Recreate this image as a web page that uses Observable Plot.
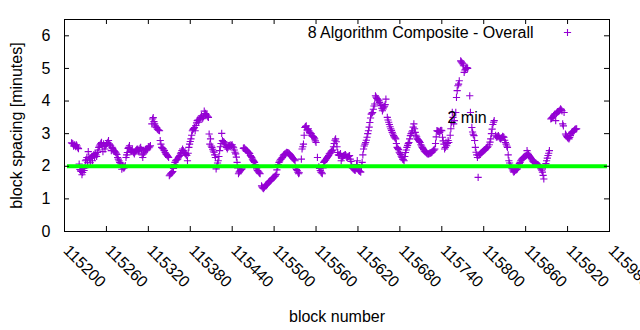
<!DOCTYPE html>
<html><head><meta charset="utf-8">
<script src="https://cdn.jsdelivr.net/npm/d3@7"></script>
<script src="https://cdn.jsdelivr.net/npm/@observablehq/plot@0.6"></script>
<style>
html,body{margin:0;padding:0;background:#fff;}
#chart{width:640px;height:330px;overflow:hidden;}
</style></head><body><div id="chart"></div>
<script>
const blocks = [
115210,115212,115213,115214,115216,115217,115219,115220,115221,115222,
115224,115225,115226,115227,115228,115230,115232,115233,115234,115236,
115237,115239,115240,115241,115244,115246,115249,115251,115253,115255,
115256,115258,115259,115262,115263,115264,115266,115267,115269,115271,
115273,115275,115276,115278,115281,115282,115283,115285,115287,115288,
115290,115293,115295,115297,115300,115302,115304,115307,115309,115312,
115314,115316,115319,115321,115323,115325,115326,115327,115328,115330,
115332,115333,115336,115337,115339,115341,115343,115345,115347,115349,
115350,115352,115355,115356,115359,115362,115365,115367,115369,115371,
115373,115375,115376,115378,115381,115383,115386,115387,115390,115392,
115395,115397,115399,115400,115402,115404,115406,115407,115408,115409,
115411,115414,115416,115417,115420,115422,115425,115426,115428,115430,
115433,115435,115438,115440,115442,115444,115447,115449,115452,115454,
115457,115459,115461,115463,115465,115466,115468,115469,115472,115476,
115478,115480,115483,115485,115488,115490,115492,115495,115497,115500,
115502,115504,115507,115509,115512,115514,115516,115518,115521,115523,
115526,115530,115531,115533,115535,115539,115540,115542,115544,115546,
115547,115549,115551,115553,115554,115556,115558,115560,115562,115565,
115566,115569,115571,115574,115576,115581,115584,115588,115589,115593,
115595,115596,115598,115600,115602,115604,115606,115608,115609,115612,
115614,115616,115619,115621,115624,115626,115628,115631,115633,115635,
115637,115639,115641,115644,115645,115648,115650,115652,115655,115657,
115659,115660,115662,115664,115666,115669,115671,115674,115676,115678,
115679,115681,115683,115686,115688,115690,115693,115695,115698,115700,
115702,115705,115707,115709,115712,115714,115717,115719,115721,115724,
115726,115730,115733,115736,115738,115740,115741,115743,115744,115745,
115746,115747,115749,115750,115755,115756,115757,115758,115760,115761,
115762,115763,115764,115765,115767,115769,115770,115771,115772,115774,
115775,115776,115780,115781,115783,115786,115787,115788,115789,115791,
115792,115793,115795,115797,115800,115802,115805,115810,115812,115813,
115815,115819,115821,115824,115826,115829,115831,115834,115836,115838,
115841,115843,115845,115848,115850,115853,115855,115857,115860,115861,
115862,115865,115867,115872,115874,115876,115879,115881,115884,115886,
115890,115892,115894,115896,115898,115900,115902,115903,115905,115908,
115910,115912,115913,115914,115915,115917,115919,115922,115924,115926,
115929,115931,115933,
115211,115215,115218,115223,115229,115231,115235,115238,115242,115243,
115245,115247,115248,115250,115252,115254,115257,115260,115261,115265,
115268,115270,115272,115274,115277,115279,115280,115284,115286,115289,
115291,115292,115294,115296,115298,115299,115301,115303,115305,115306,
115308,115310,115311,115313,115315,115317,115318,115320,115322,115329,
115331,115334,115335,115338,115340,115342,115344,115346,115348,115351,
115353,115354,115357,115358,115360,115361,115363,115364,115366,115368,
115370,115372,115374,115377,115379,115380,115382,115384,115385,115388,
115389,115391,115393,115394,115396,115398,115401,115403,115405,115410,
115412,115413,115415,115418,115419,115421,115423,115424,115427,115429,
115431,115432,115434,115436,115437,115439,115441,115443,115445,115446,
115448,115450,115451,115453,115456,115458,115460,115462,115464,115467,
115470,115471,115473,115474,115475,115477,115479,115482,115484,115486,
115487,115489,115491,115493,115494,115496,115498,115499,115501,115503,
115505,115506,115508,115510,115511,115513,115515,115517,115519,115520,
115522,115524,115525,115527,115528,115529,115532,115534,115536,115541,
115543,115545,115548,115550,115552,115555,115557,115559,115564,115567,
115568,115570,115572,115573,115575,115577,115578,115579,115580,115582,
115583,115585,115586,115587,115590,115591,115592,115594,115597,115599,
115601,115603,115605,115607,115610,115611,115613,115615,115617,115618,
115620,115622,115623,115625,115627,115629,115630,115632,115634,115636,
115638,115640,115642,115643,115646,115647,115649,115651,115653,115654,
115656,115658,115663,115665,115667,115668,115670,115672,115673,115675,
115677,115680,115682,115684,115685,115687,115689,115691,115692,115694,
115696,115697,115699,115701,115703,115704,115706,115708,115710,115711,
115713,115715,115716,115718,115720,115722,115723,115725,115727,115728,
115729,115731,115732,115734,115735,115737,115739,115742,115748,115752,
115753,115754,115768,115773,115777,115784,115785,115790,115794,115796,
115798,115799,115801,115803,115804,115806,115808,115809,115811,115814,
115817,115818,115820,115822,115823,115825,115827,115828,115830,115832,
115833,115835,115837,115839,115840,115842,115844,115846,115847,115849,
115851,115852,115854,115856,115858,115859,115863,115864,115866,115868,
115869,115870,115871,115873,115875,115877,115878,115880,115882,115883,
115885,115888,115889,115891,115893,115897,115899,115901,115904,115906,
115907,115909,115911,115918,115920,115921,115923,115925,115927,115928,
115930,115932
];
const spacing = [
2.72,2.69,2.62,2.66,2.60,2.66,2.57,2.54,2.07,1.90,
1.84,1.74,1.81,1.93,1.87,2.17,2.27,2.11,2.45,2.23,
2.11,2.30,2.17,2.33,2.39,2.30,2.58,2.66,2.73,2.45,
2.69,2.53,2.63,2.73,2.79,2.69,2.63,2.48,2.55,2.48,
2.43,2.36,2.27,2.17,2.07,1.91,1.99,1.94,2.02,2.27,
2.42,2.63,2.45,2.51,2.38,2.48,2.53,2.48,2.58,2.27,
2.43,2.51,2.53,2.57,2.63,3.30,3.45,3.49,3.37,3.24,
3.18,3.14,3.09,2.79,2.58,2.54,2.48,2.38,2.33,2.27,
1.71,1.77,1.84,1.93,2.17,2.22,2.33,2.42,2.53,2.43,
2.39,2.33,2.17,2.58,2.84,3.09,3.19,3.09,3.40,3.35,
3.50,3.46,3.52,3.69,3.62,3.55,3.50,2.99,2.68,2.84,
2.58,2.43,2.27,1.92,2.17,2.48,3.01,2.79,2.75,2.68,
2.53,2.63,2.66,2.66,2.57,2.43,2.12,1.77,1.87,1.92,
2.57,2.50,2.48,2.43,2.39,2.33,2.27,2.22,2.12,1.87,
1.82,1.77,1.36,1.31,1.41,1.45,1.51,1.56,1.61,1.67,
1.71,1.89,2.12,2.20,2.27,2.36,2.38,2.43,2.40,2.36,
2.27,2.17,1.95,1.87,1.77,2.22,2.53,2.68,3.19,3.24,
3.11,3.15,3.04,3.00,2.94,2.91,2.84,2.73,2.27,1.93,
1.87,1.77,2.12,2.20,2.27,2.43,2.50,2.84,2.75,2.33,
2.39,2.17,2.30,2.33,2.36,2.27,2.30,2.33,2.22,1.95,
1.91,1.87,2.17,1.87,1.82,2.12,2.53,2.73,2.89,3.09,
3.34,3.60,3.65,3.91,4.16,4.06,4.01,3.91,3.70,3.81,
3.89,4.06,3.50,3.35,3.21,3.04,2.94,2.84,2.58,2.51,
2.43,2.36,2.27,2.17,2.42,2.58,2.73,2.94,3.09,3.30,
3.04,2.84,2.79,2.73,2.58,2.51,2.43,2.39,2.38,2.40,
2.43,2.53,3.09,3.06,3.09,3.09,2.89,2.68,2.53,2.58,
2.73,2.63,2.79,2.73,3.65,3.50,3.30,3.40,3.65,4.11,
4.32,4.47,4.52,4.62,5.23,5.17,5.14,5.08,4.88,4.98,
5.02,5.03,4.16,3.65,3.19,2.94,2.79,2.58,2.43,2.27,
1.66,2.33,2.38,2.42,2.48,2.51,2.58,2.84,3.14,3.28,
3.40,2.89,2.94,2.84,2.88,2.89,2.73,2.58,2.17,2.02,
1.92,1.82,1.87,1.92,2.02,2.17,2.23,2.27,2.31,2.33,
2.48,2.33,2.27,2.12,2.10,2.07,2.02,1.97,1.82,1.61,
2.17,2.33,2.48,3.45,3.49,3.55,3.61,3.40,3.65,3.70,
3.76,3.70,3.30,3.24,3.65,2.99,2.91,2.84,2.94,3.04,
3.09,3.14,3.15,
2.70,2.64,2.62,1.86,1.95,2.20,2.28,2.25,2.36,2.28,
2.35,2.42,2.50,2.62,2.70,2.60,2.62,2.68,2.70,2.66,
2.58,2.50,2.45,2.40,2.22,2.12,2.10,1.96,1.97,2.35,
2.55,2.58,2.50,2.47,2.45,2.42,2.44,2.50,2.52,2.46,
2.55,2.50,2.35,2.38,2.47,2.54,2.50,2.60,2.60,3.30,
3.20,3.12,3.10,2.68,2.56,2.50,2.42,2.36,2.30,1.74,
1.79,1.81,2.05,2.12,2.19,2.20,2.26,2.30,2.38,2.48,
2.48,2.41,2.36,2.40,2.68,2.76,2.95,3.13,3.16,3.25,
3.33,3.42,3.44,3.47,3.55,3.48,3.60,3.58,3.52,2.62,
2.52,2.47,2.35,2.00,2.10,2.30,2.60,2.70,2.76,2.72,
2.62,2.58,2.58,2.64,2.60,2.63,2.60,2.50,2.38,2.28,
1.95,1.82,1.85,1.90,2.55,2.54,2.50,2.45,2.41,2.30,
2.18,2.15,2.05,1.98,1.92,1.85,1.79,1.40,1.33,1.35,
1.38,1.43,1.48,1.53,1.55,1.58,1.63,1.65,1.69,1.75,
1.98,2.05,2.16,2.22,2.25,2.32,2.37,2.40,2.42,2.41,
2.38,2.33,2.30,2.24,2.22,2.20,1.90,1.82,1.80,2.60,
2.95,3.22,3.13,3.08,3.02,2.92,2.88,2.78,1.98,1.82,
1.80,1.95,2.15,2.18,2.24,2.30,2.33,2.38,2.40,2.46,
2.48,2.60,2.70,2.80,2.60,2.42,2.35,2.36,2.25,2.32,
2.34,2.32,2.28,2.31,2.15,2.02,1.93,1.89,1.92,2.05,
1.95,1.85,1.84,1.98,2.35,2.62,2.68,2.80,3.00,3.20,
3.48,3.63,3.75,3.85,4.12,4.08,4.03,3.96,3.86,3.78,
3.76,3.84,3.42,3.28,3.15,3.10,2.99,2.90,2.87,2.70,
2.55,2.40,2.31,2.22,2.20,2.30,2.50,2.64,2.70,2.84,
3.00,3.05,3.20,3.15,2.95,2.90,2.82,2.76,2.66,2.62,
2.55,2.47,2.45,2.41,2.38,2.39,2.41,2.42,2.46,2.49,
2.50,2.70,2.90,3.08,3.07,3.04,3.10,2.78,2.70,2.95,
3.15,3.35,5.20,4.95,5.00,3.05,2.98,2.35,2.36,2.40,
2.45,2.46,2.50,2.54,2.56,2.60,2.66,2.74,3.00,3.35,
2.95,2.90,2.92,2.90,2.86,2.86,2.92,2.90,2.80,2.68,
2.62,2.35,2.10,1.98,1.95,1.86,1.84,1.89,1.90,1.96,
2.08,2.12,2.20,2.25,2.29,2.30,2.40,2.36,2.30,2.24,
2.20,2.16,2.14,2.11,2.09,2.05,2.04,2.00,1.92,1.88,
1.72,2.00,2.08,2.25,2.40,3.47,3.52,3.58,3.62,3.67,
3.68,3.72,3.73,2.95,2.88,2.86,2.88,3.00,3.06,3.07,
3.12,3.14
];
const xTicks = [115200,115260,115320,115380,115440,115500,115560,115620,115680,115740,115800,115860,115920,115980];
const yTicks = [0,1,2,3,4,5,6];
const xDomain = [115200, 115980];
const yDomain = [0, 6.5];
const refValue = [2];
const seriesLabel = "8 Algorithm Composite - Overall";
const refLabel = "2 min";
const xTitle = "block number";
const yTitle = "block spacing [minutes]";

const points = blocks.map((b, i) => ({block: b, value: spacing[i]}));
const purple = "#9400d3";
const plus = {draw(ctx) { const a = 3.6; ctx.moveTo(-a, 0); ctx.lineTo(a, 0); ctx.moveTo(0, -a); ctx.lineTo(0, a); }};

const W = 640, H = 330, mL = 64, mR = 31, mT = 19, mB = 99;
const innerW = W - mL - mR, innerH = H - mT - mB;
const tk = 5;

const chart = Plot.plot({
  width: W, height: H,
  marginLeft: mL, marginRight: mR, marginTop: mT, marginBottom: mB,
  style: {fontFamily: "'Liberation Sans', Arial, sans-serif", fontSize: "16px", background: "#fff", color: "#000", overflow: "visible"},
  x: {domain: xDomain, axis: null},
  y: {domain: yDomain, axis: null},
  marks: [
    Plot.dot(points, {x: "block", y: "value", symbol: plus, r: 4, fill: "none", stroke: purple, strokeWidth: 1.1}),
    Plot.ruleY(refValue, {y: d => d, stroke: "#00ff00", strokeWidth: 4, insetLeft: 3, insetRight: 2}),
    Plot.tickX(xTicks, {x: d => d, stroke: "#000", insetTop: innerH - tk}),
    Plot.tickX(xTicks, {x: d => d, stroke: "#000", insetBottom: innerH - tk}),
    Plot.tickY(yTicks, {y: d => d, stroke: "#000", insetRight: innerW - tk}),
    Plot.tickY(yTicks, {y: d => d, stroke: "#000", insetLeft: innerW - tk}),
    Plot.frame({stroke: "#000", strokeWidth: 1}),
    Plot.text(yTicks, {y: d => d, text: d => String(d), frameAnchor: "left", textAnchor: "end", lineAnchor: "middle", dx: -14, fill: "#000"}),
    Plot.text(xTicks, {x: d => d, text: d => String(d), frameAnchor: "bottom", rotate: 45, textAnchor: "start", dx: -2, dy: 20, fill: "#000"}),
    Plot.text([yTitle], {text: d => d, frameAnchor: "left", textAnchor: "middle", lineAnchor: "middle", rotate: -90, dx: -48, fill: "#000"}),
    Plot.text([xTitle], {text: d => d, frameAnchor: "bottom", textAnchor: "middle", lineAnchor: "middle", dy: 85, fill: "#000"}),
    Plot.text([seriesLabel], {text: d => d, frameAnchor: "top-right", textAnchor: "end", lineAnchor: "middle", dx: -76, dy: 13, fill: "#000"}),
    Plot.dot([seriesLabel], {frameAnchor: "top-right", dx: -42, dy: 13, symbol: plus, r: 4, fill: "none", stroke: purple, strokeWidth: 1.1}),
    Plot.text([refLabel], {text: d => d, frameAnchor: "top-left", textAnchor: "start", lineAnchor: "middle", dx: 383, dy: 98, fill: "#000"})
  ]
});
document.getElementById("chart").appendChild(chart);
</script>
</body></html>
